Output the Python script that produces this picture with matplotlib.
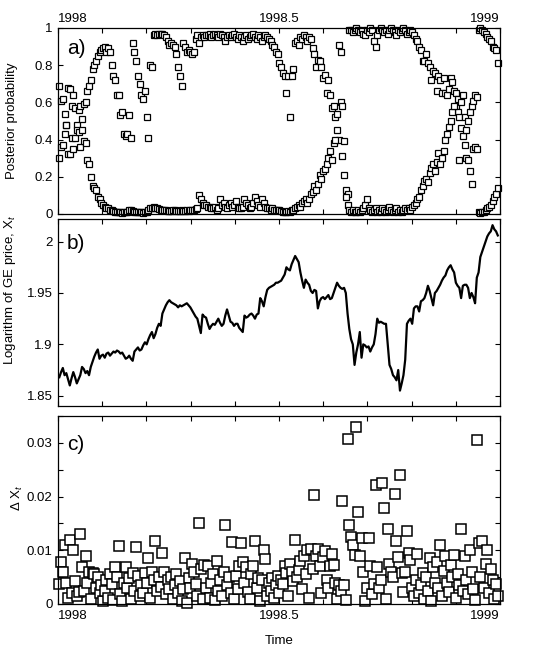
import numpy as np
import matplotlib
matplotlib.use("Agg")
import matplotlib.pyplot as plt
from matplotlib.ticker import MultipleLocator, FixedLocator, FuncFormatter

plt.rcParams['font.family'] = ['Liberation Sans', 'DejaVu Sans']
plt.rcParams['mathtext.fontset'] = 'custom'
plt.rcParams['mathtext.rm'] = 'Liberation Sans'
plt.rcParams['mathtext.it'] = 'Liberation Sans:italic'

# trading days of 1998 (decimal years)
days = np.linspace(1998.003, 1998.995, 252)
year_ticks = [1998, 1998.5, 1999]
year_labels = ["1998", "1998.5", "1999"]

# a) posterior probabilities of the two plotted states
prob_a = [0.69, 0.61, 0.62, 0.54, 0.48, 0.68, 0.67, 0.58, 0.64, 0.57, 0.48, 0.56,
          0.58, 0.51, 0.59, 0.60, 0.66, 0.69, 0.72, 0.78, 0.80, 0.82, 0.85, 0.87,
          0.88, 0.89, 0.90, 0.87, 0.89, 0.87,
          0.80, 0.74, 0.72, 0.64, 0.64, 0.53, 0.55, 0.43, 0.42, 0.43, 0.53, 0.41,
          0.92, 0.87, 0.82, 0.74, 0.70, 0.64, 0.62, 0.66, 0.52, 0.41, 0.80, 0.79,
          0.96, 0.97, 0.96, 0.97, 0.97, 0.97, 0.96, 0.95, 0.93, 0.91, 0.92, 0.91,
          0.90, 0.86, 0.79, 0.74, 0.69, 0.92, 0.90, 0.87, 0.88, 0.87, 0.86, 0.87,
          0.94, 0.96,
          0.92, 0.95, 0.96, 0.95, 0.96, 0.96, 0.97, 0.95, 0.96, 0.97, 0.96, 0.95,
          0.97, 0.96, 0.95, 0.93, 0.95, 0.96, 0.95, 0.96, 0.97, 0.95, 0.94, 0.96,
          0.95, 0.93, 0.95, 0.96, 0.94, 0.95, 0.96, 0.97, 0.95, 0.94, 0.96, 0.95,
          0.93, 0.95, 0.96, 0.95, 0.94, 0.93, 0.91, 0.90, 0.87,
          0.86, 0.81, 0.79, 0.76, 0.74, 0.65, 0.74, 0.52, 0.74, 0.78, 0.92, 0.93,
          0.91, 0.95, 0.94, 0.96, 0.95, 0.93, 0.95, 0.94,
          0.89, 0.86, 0.79, 0.83, 0.82, 0.79, 0.73, 0.75, 0.65, 0.72, 0.64, 0.57,
          0.58, 0.52, 0.45, 0.40, 0.60, 0.31, 0.21, 0.13, 0.11,
          0.99, 0.99, 0.98, 0.99, 1.00, 0.99, 0.98, 0.99, 0.97, 0.96, 0.99, 0.98,
          1.00, 0.99, 0.93, 0.90, 0.96, 0.99, 1.00, 0.99, 0.98, 0.99, 0.97, 0.99,
          1.00, 0.99, 0.98, 0.96, 0.99, 0.98, 0.99, 1.00, 0.99, 0.97, 0.98, 0.99,
          0.98, 0.96,
          0.94, 0.93, 0.90, 0.88, 0.82, 0.82, 0.86, 0.81, 0.79, 0.72, 0.77, 0.76,
          0.66, 0.74, 0.72, 0.65, 0.73, 0.65,
          0.64, 0.67, 0.73, 0.71, 0.66, 0.58, 0.55, 0.52, 0.46, 0.42, 0.37, 0.30,
          0.29, 0.23, 0.16, 0.35, 0.36, 0.35,
          0.99, 1.00, 0.99, 0.98, 0.97, 0.95, 0.94, 0.93, 0.90, 0.89, 0.88, 0.81]
prob_b = [0.30, 0.36, 0.37, 0.43, 0.48, 0.32, 0.32, 0.41, 0.35, 0.41, 0.45, 0.44,
          0.36, 0.45, 0.39, 0.38, 0.29, 0.27, 0.20, 0.15, 0.14, 0.13, 0.09, 0.08,
          0.06, 0.05, 0.04, 0.03, 0.03, 0.02,
          0.02, 0.015, 0.01, 0.01, 0.01, 0.01, 0.005, 0.01, 0.01, 0.01, 0.02, 0.02,
          0.015, 0.01, 0.01, 0.01, 0.01, 0.01, 0.005, 0.01, 0.01, 0.02, 0.03, 0.03,
          0.035, 0.03, 0.03, 0.025, 0.02, 0.02, 0.02, 0.02, 0.015, 0.015, 0.015, 0.02,
          0.02, 0.015, 0.015, 0.015, 0.02, 0.015, 0.015, 0.02, 0.015, 0.02, 0.02, 0.02,
          0.025, 0.03,
          0.10, 0.08, 0.06, 0.05, 0.05, 0.04, 0.04, 0.03, 0.03, 0.04, 0.02, 0.03,
          0.08, 0.05, 0.06, 0.04, 0.03, 0.05, 0.06, 0.04, 0.05, 0.07, 0.04, 0.03,
          0.03, 0.04, 0.08, 0.06, 0.05, 0.03, 0.04, 0.06, 0.09, 0.07, 0.05, 0.04,
          0.08, 0.06, 0.04, 0.03, 0.03, 0.02, 0.03, 0.02, 0.02,
          0.02, 0.02, 0.015, 0.01, 0.01, 0.01, 0.015, 0.01, 0.02, 0.02, 0.03, 0.04,
          0.05, 0.04, 0.06, 0.07, 0.08, 0.06, 0.08, 0.11,
          0.12, 0.15, 0.13, 0.16, 0.21, 0.19, 0.23, 0.24, 0.27, 0.30, 0.34, 0.29,
          0.38, 0.40, 0.54, 0.91, 0.87, 0.58, 0.39, 0.09, 0.05,
          0.02, 0.01, 0.02, 0.01, 0.01, 0.02, 0.01, 0.02, 0.03, 0.05, 0.08, 0.03,
          0.02, 0.01, 0.02, 0.03, 0.01, 0.02, 0.01, 0.03, 0.02, 0.01, 0.02, 0.04,
          0.02, 0.01, 0.02, 0.03, 0.01, 0.02, 0.01, 0.02, 0.03, 0.02, 0.03, 0.02,
          0.04, 0.05,
          0.06, 0.08, 0.09, 0.13, 0.15, 0.18, 0.19, 0.17, 0.22, 0.25, 0.27, 0.23,
          0.28, 0.33, 0.27, 0.30, 0.34, 0.40,
          0.43, 0.47, 0.50, 0.55, 0.58, 0.65, 0.62, 0.29, 0.60, 0.64, 0.52, 0.45,
          0.50, 0.55, 0.58, 0.61, 0.64, 0.63,
          0.01, 0.005, 0.01, 0.01, 0.02, 0.03, 0.04, 0.05, 0.07, 0.09, 0.11, 0.14]

# b) log GE price
log_price = [1.868, 1.873, 1.877, 1.870, 1.872, 1.866, 1.860, 1.867, 1.873, 1.868, 1.862, 1.866,
             1.870, 1.878, 1.876, 1.872, 1.874, 1.870, 1.878, 1.883, 1.888, 1.892, 1.895, 1.886,
             1.889, 1.890, 1.887, 1.891, 1.892, 1.889, 1.891, 1.893, 1.892, 1.894, 1.893, 1.891,
             1.892, 1.889, 1.886, 1.887, 1.889, 1.886, 1.884, 1.893, 1.895, 1.897, 1.894, 1.895,
             1.899, 1.902, 1.900, 1.905, 1.909, 1.912, 1.906, 1.910, 1.916, 1.920, 1.918, 1.930,
             1.934, 1.938, 1.941, 1.943, 1.941, 1.940, 1.939, 1.938, 1.936, 1.938, 1.937, 1.938,
             1.939, 1.940, 1.938, 1.936, 1.933, 1.930, 1.927, 1.925, 1.918, 1.911, 1.929, 1.927,
             1.926, 1.920, 1.915, 1.918, 1.920, 1.919, 1.922, 1.925, 1.921, 1.918, 1.920, 1.928,
             1.934, 1.928, 1.922, 1.921, 1.918, 1.920, 1.920, 1.916, 1.914, 1.912, 1.928, 1.926,
             1.927, 1.929, 1.930, 1.928, 1.925, 1.929, 1.930, 1.945, 1.942, 1.937, 1.946, 1.953,
             1.955, 1.956, 1.957, 1.958, 1.960, 1.960, 1.961, 1.962, 1.965, 1.968, 1.975, 1.973,
             1.972, 1.978, 1.982, 1.986, 1.983, 1.980, 1.970, 1.962, 1.955, 1.963, 1.960, 1.958,
             1.952, 1.950, 1.953, 1.952, 1.935, 1.942, 1.945, 1.946, 1.944, 1.946, 1.948, 1.944,
             1.945, 1.950, 1.955, 1.960, 1.957, 1.955, 1.954, 1.955, 1.950, 1.930, 1.915, 1.905,
             1.900, 1.880, 1.892, 1.900, 1.912, 1.887, 1.900, 1.899, 1.897, 1.898, 1.893, 1.897,
             1.900, 1.910, 1.925, 1.921, 1.922, 1.921, 1.920, 1.920, 1.900, 1.880, 1.876, 1.870,
             1.868, 1.865, 1.875, 1.855, 1.862, 1.870, 1.885, 1.920, 1.923, 1.925, 1.920, 1.935,
             1.937, 1.937, 1.932, 1.942, 1.943, 1.945, 1.950, 1.957, 1.952, 1.945, 1.938, 1.950,
             1.952, 1.955, 1.958, 1.962, 1.965, 1.967, 1.972, 1.975, 1.977, 1.973, 1.970, 1.960,
             1.957, 1.955, 1.945, 1.957, 1.958, 1.958, 1.955, 1.945, 1.950, 1.946, 1.940, 1.965,
             1.970, 1.985, 1.990, 1.995, 2.000, 2.005, 2.008, 2.010, 2.016, 2.012, 2.010, 2.006]

# c) absolute daily change of the log price
delta_x = [0.0038, 0.0079, 0.0060, 0.0110, 0.0040, 0.0012, 0.0120, 0.0020, 0.0100, 0.0042, 0.0015, 0.0022,
           0.0130, 0.0068, 0.0025, 0.0090, 0.0040, 0.0060, 0.0010, 0.0058, 0.0055, 0.0030, 0.0050, 0.0020,
           0.0035, 0.0005, 0.0025, 0.0045, 0.0012, 0.0055, 0.0038, 0.0008, 0.0068, 0.0050, 0.0108, 0.0018,
           0.0005, 0.0040, 0.0068, 0.0030, 0.0048, 0.0010, 0.0058, 0.0025, 0.0107, 0.0052, 0.0015, 0.0035,
           0.0020, 0.0057, 0.0040, 0.0085, 0.0012, 0.0060, 0.0045, 0.0118, 0.0025, 0.0050, 0.0032, 0.0095,
           0.0060, 0.0018, 0.0045, 0.0027, 0.0050, 0.0010, 0.0035, 0.0055, 0.0020, 0.0042, 0.0005, 0.0028,
           0.0085, 0.0002, 0.0048, 0.0030, 0.0075, 0.0060, 0.0038, 0.0015, 0.0150, 0.0065, 0.0010, 0.0072,
           0.0030, 0.0070, 0.0012, 0.0040, 0.0055, 0.0008, 0.0080, 0.0025, 0.0045, 0.0015, 0.0060, 0.0147,
           0.0035, 0.0050, 0.0020, 0.0115, 0.0010, 0.0052, 0.0028, 0.0070, 0.0113, 0.0078, 0.0040, 0.0068,
           0.0022, 0.0010, 0.0055, 0.0070, 0.0118, 0.0030, 0.0048, 0.0005, 0.0045, 0.0100, 0.0083, 0.0015,
           0.0040, 0.0025, 0.0048, 0.0012, 0.0035, 0.0052, 0.0020, 0.0045, 0.0038, 0.0070, 0.0058, 0.0015,
           0.0075, 0.0060, 0.0042, 0.0120, 0.0050, 0.0063, 0.0080, 0.0028, 0.0090, 0.0055, 0.0100, 0.0012,
           0.0103, 0.0065, 0.0202, 0.0090, 0.0103, 0.0070, 0.0020, 0.0088, 0.0098, 0.0045, 0.0030, 0.0070,
           0.0094, 0.0072, 0.0040, 0.0010, 0.0035, 0.0025, 0.0192, 0.0036, 0.0008, 0.0307, 0.0147, 0.0125,
           0.0110, 0.0092, 0.0330, 0.0172, 0.0090, 0.0122, 0.0060, 0.0005, 0.0030, 0.0122, 0.0070, 0.0018,
           0.0038, 0.0222, 0.0068, 0.0030, 0.0045, 0.0225, 0.0178, 0.0010, 0.0140, 0.0075, 0.0060, 0.0050,
           0.0205, 0.0118, 0.0088, 0.0240, 0.0058, 0.0022, 0.0060, 0.0135, 0.0095, 0.0082, 0.0030, 0.0015,
           0.0045, 0.0094, 0.0020, 0.0035, 0.0057, 0.0010, 0.0050, 0.0025, 0.0085, 0.0005, 0.0068, 0.0040,
           0.0079, 0.0030, 0.0110, 0.0015, 0.0062, 0.0090, 0.0040, 0.0022, 0.0072, 0.0050, 0.0092, 0.0012,
           0.0055, 0.0035, 0.0140, 0.0025, 0.0090, 0.0045, 0.0018, 0.0100, 0.0060, 0.0028, 0.0008, 0.0305,
           0.0113, 0.0050, 0.0118, 0.0030, 0.0075, 0.0100, 0.0020, 0.0066, 0.0045, 0.0010, 0.0038, 0.0014]

fig = plt.figure(figsize=(5.55, 6.62), dpi=100)
ax_a = fig.add_axes([58/555, 1 - 214/662, 442/555, 186/662])
ax_b = fig.add_axes([58/555, 1 - 406/662, 442/555, 187/662])
ax_c = fig.add_axes([58/555, 1 - 604/662, 442/555, 188/662])

fmt = FuncFormatter(lambda v, pos: f"{v:g}")


def style(ax):
    ax.set_xlim(1998, 1999)
    ax.xaxis.set_major_locator(FixedLocator(year_ticks))
    ax.xaxis.set_minor_locator(MultipleLocator(0.1))
    ax.yaxis.set_major_formatter(fmt)
    ax.tick_params(which='both', direction='in', top=True, right=True,
                   length=3.5, width=0.8, labelsize=9.5, pad=4)
    for s in ax.spines.values():
        s.set_linewidth(0.9)


for ax in (ax_a, ax_b, ax_c):
    style(ax)

# a)
ax_a.plot(days, prob_a, 's', ms=4, mfc='white', mec='black', mew=0.9, clip_on=False)
ax_a.plot(days, prob_b, 's', ms=4, mfc='white', mec='black', mew=0.9, clip_on=False)
ax_a.set_ylim(0, 1)
ax_a.yaxis.set_major_locator(MultipleLocator(0.2))
ax_a.tick_params(axis='x', labelbottom=False, labeltop=True, pad=2)
ax_a.set_xticklabels(year_labels)
ax_a.set_ylabel('Posterior probability', fontsize=9.5)
ax_a.yaxis.set_label_coords(-0.09, 0.5)
ax_a.text(0.02, 0.89, 'a)', transform=ax_a.transAxes, fontsize=15, va='center')

# b)
ax_b.plot(days, log_price, color='black', lw=1.6)
ax_b.set_ylim(1.84, 2.022)
ax_b.yaxis.set_major_locator(FixedLocator([1.85, 1.9, 1.95, 2.0]))
ax_b.tick_params(axis='x', labelbottom=False)
ax_b.set_ylabel('Logarithm of GE price, X$_t$', fontsize=9.5)
ax_b.yaxis.set_label_coords(-0.09, 0.62)
ax_b.text(0.02, 0.87, 'b)', transform=ax_b.transAxes, fontsize=15, va='center')

# c)
ax_c.plot(days, delta_x, 's', ms=6.5, mfc='white', mec='black', mew=1.1, clip_on=False)
ax_c.set_ylim(0, 0.035)
ax_c.yaxis.set_major_locator(MultipleLocator(0.01))
ax_c.yaxis.set_minor_locator(MultipleLocator(0.005))
ax_c.set_xticklabels(year_labels)
ax_c.set_ylabel('Δ X$_t$', fontsize=9.5)
ax_c.yaxis.set_label_coords(-0.075, 0.565)
ax_c.set_xlabel('Time', fontsize=9.5, labelpad=10)
ax_c.text(0.02, 0.85, 'c)', transform=ax_c.transAxes, fontsize=15, va='center')

for ax in (ax_a, ax_c):
    for lab, ha in zip(ax.get_xticklabels(), ['left', 'center', 'right']):
        lab.set_horizontalalignment(ha)

fig.savefig('out.png', dpi=100)
